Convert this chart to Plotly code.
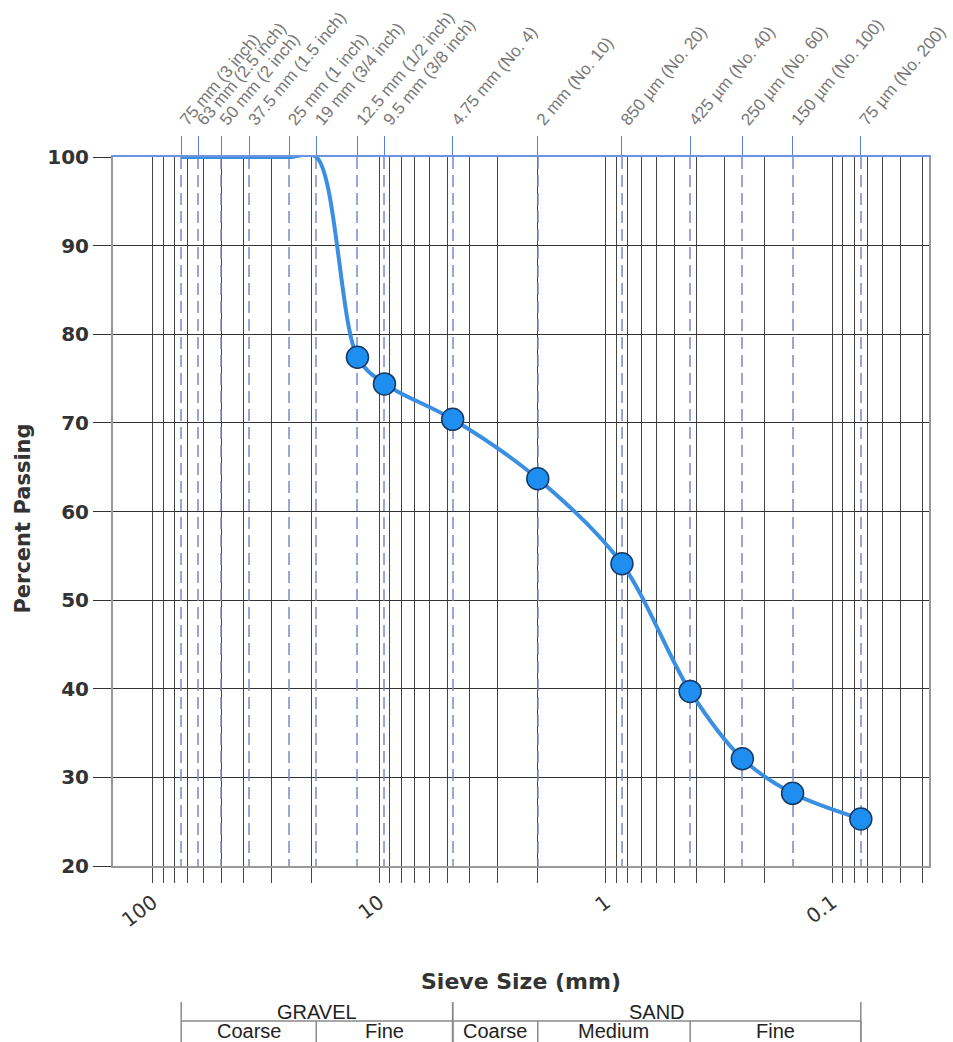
import math
import plotly.graph_objects as go

# ---------------- data ----------------
sieve_mm = [75, 63, 50, 37.5, 25, 19, 12.5, 9.5, 4.75, 2, 0.85, 0.425, 0.25, 0.15, 0.075]
percent_passing = [100, 100, 100, 100, 100, 100, 77.4, 74.4, 70.4, 63.7, 54.1, 39.7, 32.1, 28.2, 25.3]
sieve_labels = ["75 mm (3 inch)", "63 mm (2.5 inch)", "50 mm (2 inch)", "37.5 mm (1.5 inch)",
                "25 mm (1 inch)", "19 mm (3/4 inch)", "12.5 mm (1/2 inch)", "9.5 mm (3/8 inch)",
                "4.75 mm (No. 4)", "2 mm (No. 10)", "850 µm (No. 20)", "425 µm (No. 40)",
                "250 µm (No. 60)", "150 µm (No. 100)", "75 µm (No. 200)"]
grid_mm = [0.04, 0.05, 0.06, 0.07, 0.08, 0.09,
           0.1, 0.2, 0.3, 0.4, 0.5, 0.6, 0.7, 0.8, 0.9,
           1, 2, 3, 4, 5, 6, 7, 8, 9,
           10, 20, 30, 40, 50, 60, 70, 80, 90, 100]
decade_labels = {0.1: "0.1", 1: "1", 10: "10", 100: "100"}
y_ticks = [20, 30, 40, 50, 60, 70, 80, 90, 100]
x_range_mm = [150, 0.0375]
y_range = [20, 100]

# soil classification table: (label, from mm, to mm)
groups = [("GRAVEL", 75, 4.75), ("SAND", 4.75, 0.075)]
subgroups = [("Coarse", 75, 19), ("Fine", 19, 4.75), ("Coarse", 4.75, 2),
             ("Medium", 2, 0.425), ("Fine", 0.425, 0.075)]

# ---------------- figure ----------------
W, H = 953, 1042
ml, mr, mt, mb = 113, 24, 157, 176
plot_h = H - mt - mb

def py(pix):
    """pixel row -> paper y"""
    return (H - mb - pix) / plot_h

lg = math.log10
xr = [lg(x_range_mm[0]), lg(x_range_mm[1])]

fig = go.Figure()
fig.add_trace(go.Scatter(
    x=sieve_mm, y=percent_passing, mode="lines",
    line=dict(color="#3b8fe3", width=4, shape="spline", smoothing=0.9),
    hoverinfo="skip", showlegend=False))
pts = [(s, p) for s, p in zip(sieve_mm, percent_passing) if p < 100]
fig.add_trace(go.Scatter(
    x=[s for s, _ in pts], y=[p for _, p in pts], mode="markers",
    marker=dict(size=22, color="#1f8ef1", line=dict(color="#173a63", width=1.5)),
    showlegend=False))
fig.add_trace(go.Scatter(
    x=sieve_mm, y=percent_passing, xaxis="x2", mode="markers",
    marker=dict(opacity=0), hoverinfo="skip", showlegend=False))

fig.update_layout(
    width=W, height=H,
    margin=dict(l=ml, r=mr, t=mt, b=mb),
    paper_bgcolor="white", plot_bgcolor="white",
    xaxis=dict(
        type="log", range=xr, autorange=False,
        tickmode="array", tickvals=grid_mm,
        ticktext=[decade_labels.get(v, "") for v in grid_mm],
        tickangle=-37, ticks="outside", ticklen=15, tickcolor="#444", tickwidth=1,
        tickfont=dict(family="DejaVu Sans", size=20, color="#333"),
        showgrid=True, gridcolor="#444", gridwidth=1,
        showline=True, linecolor="#999", linewidth=2,
        zeroline=False, automargin=False),
    xaxis2=dict(
        type="log", range=xr, autorange=False, overlaying="x", side="top", anchor="y",
        tickmode="array", tickvals=sieve_mm, ticktext=sieve_labels,
        tickangle=-50, ticks="outside", ticklen=19, tickcolor="#5a7fd6", tickwidth=1,
        tickfont=dict(family="Liberation Sans", size=17, color="#777"),
        showgrid=True, gridcolor="rgba(120,138,200,0.75)", gridwidth=1.5, griddash="12px,6px",
        showline=True, linecolor="#6f93e0", linewidth=1.5,
        zeroline=False, automargin=False),
    yaxis=dict(
        range=y_range, autorange=False, tickmode="array", tickvals=y_ticks,
        ticks="outside", ticklen=18, tickcolor="#333", tickwidth=1,
        tickfont=dict(family="DejaVu Sans", size=20, color="#333", weight="bold"),
        showgrid=True, gridcolor="#333", gridwidth=1,
        showline=True, linecolor="#999", linewidth=2, mirror=True,
        zeroline=False, automargin=False),
)

anns = [
    dict(text="Percent Passing", xref="paper", yref="paper", x=(23 - ml) / (W - ml - mr), y=0.49,
         textangle=-90, showarrow=False, xanchor="center", yanchor="middle",
         font=dict(family="DejaVu Sans", size=21, color="#333", weight="bold")),
    dict(text="Sieve Size (mm)", xref="paper", yref="paper", x=0.5, y=py(981),
         showarrow=False, xanchor="center", yanchor="middle",
         font=dict(family="DejaVu Sans", size=22, color="#333", weight="bold")),
]
shapes = []
line_style = dict(color="#8a8a8a", width=1.5)
for name, a, b in groups:
    anns.append(dict(text=name, xref="x", yref="paper", x=(lg(a) + lg(b)) / 2, y=py(1012),
                     showarrow=False, xanchor="center", yanchor="middle",
                     font=dict(family="Liberation Sans", size=20, color="#222")))
    for v in (a, b):
        shapes.append(dict(type="line", xref="x", yref="paper", x0=v, x1=v,
                           y0=py(1002), y1=py(1045), line=line_style))
shapes.append(dict(type="line", xref="x", yref="paper", x0=groups[0][1], x1=groups[-1][2],
                   y0=py(1021), y1=py(1021), line=line_style))
for name, a, b in subgroups:
    anns.append(dict(text=name, xref="x", yref="paper", x=(lg(a) + lg(b)) / 2, y=py(1031),
                     showarrow=False, xanchor="center", yanchor="middle",
                     font=dict(family="Liberation Sans", size=20, color="#222")))
    shapes.append(dict(type="line", xref="x", yref="paper", x0=b, x1=b,
                       y0=py(1021), y1=py(1045), line=line_style))
fig.update_layout(annotations=anns, shapes=shapes)

fig.write_html("out.html", config={"displayModeBar": False},
               post_script="document.body.style.margin='0';document.body.style.overflow='hidden';")
